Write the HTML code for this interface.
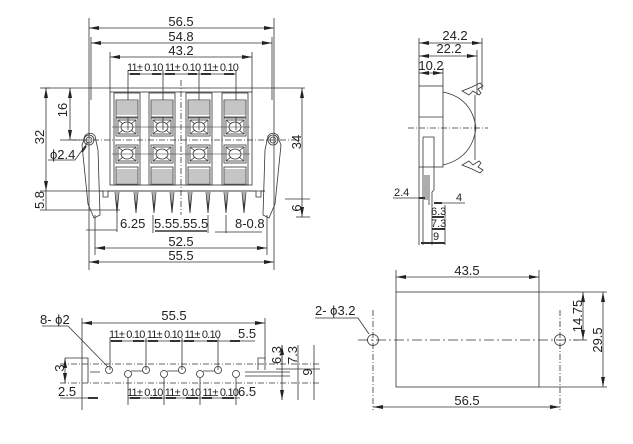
<!DOCTYPE html>
<html><head><meta charset="utf-8"><style>
html,body{margin:0;padding:0;background:#fff;}
svg{display:block;}
text{font-family:"Liberation Sans",sans-serif;font-size:13px;fill:#222;}
</style></head><body>
<svg width="633" height="444" viewBox="0 0 633 444" xmlns="http://www.w3.org/2000/svg">
<defs>
<marker id="a" viewBox="0 0 10 4" refX="10" refY="2" markerWidth="10" markerHeight="4" orient="auto-start-reverse" markerUnits="userSpaceOnUse"><path d="M0,0L10,2L0,4z" fill="#222"/></marker>
</defs>
<g stroke="#333" stroke-width="0.8" fill="none">
<line x1="89" y1="18" x2="89" y2="270"/><line x1="274" y1="18" x2="274" y2="270"/>
<line x1="91" y1="37" x2="91" y2="100"/><line x1="272" y1="37" x2="272" y2="100"/>
<line x1="110" y1="52" x2="110" y2="92"/><line x1="252" y1="52" x2="252" y2="92"/>
<line x1="89" y1="28" x2="274" y2="28" marker-start="url(#a)" marker-end="url(#a)"/>
<line x1="91" y1="43" x2="272" y2="43" marker-start="url(#a)" marker-end="url(#a)"/>
<line x1="110" y1="57" x2="252" y2="57" marker-start="url(#a)" marker-end="url(#a)"/>
<line x1="128" y1="74" x2="236" y2="74"/>
<g stroke-width="2"><line x1="130" y1="74" x2="140" y2="74"/><line x1="152" y1="74" x2="161" y2="74"/><line x1="165" y1="74" x2="175" y2="74"/><line x1="188" y1="74" x2="197" y2="74"/><line x1="201" y1="74" x2="211" y2="74"/><line x1="224" y1="74" x2="234" y2="74"/></g>
<line x1="128" y1="70" x2="128" y2="130"/><line x1="163" y1="70" x2="163" y2="130"/><line x1="199" y1="70" x2="199" y2="130"/><line x1="236" y1="70" x2="236" y2="130"/>
<line x1="45" y1="88" x2="305" y2="88"/>
<rect x="110" y="92" width="142" height="93"/>
<g id="m">
<rect x="114" y="93" width="26" height="92"/>
<rect x="116" y="100" width="22" height="17" fill="#fff"/>
<rect x="116" y="167" width="22" height="17" fill="#fff"/>
<path d="M116,102h22M116,104h22M116,106h22M116,108h22M116,110h22M116,112h22M116,114h22M116,170h22M116,172h22M116,174h22M116,176h22M116,178h22M116,180h22M116,182h22" stroke="#666"/>
<rect x="116" y="118" width="22" height="18"/><rect x="118" y="120" width="18" height="14"/>
<ellipse cx="127" cy="127" rx="6" ry="5"/><path d="M118,120l5,4M136,120l-5,4M118,134l5,-4M136,134l-5,-4"/>
<rect x="116" y="145" width="22" height="18"/><rect x="118" y="147" width="18" height="14"/>
<ellipse cx="127" cy="154" rx="6" ry="5"/><path d="M118,147l5,4M136,147l-5,4M118,161l5,-4M136,161l-5,-4"/>
</g>
<use href="#m" x="35"/><use href="#m" x="72"/><use href="#m" x="108"/>
<path d="M112,127H250M112,154H250" stroke-width="0.6"/>
<line x1="181" y1="80" x2="181" y2="215" stroke-dasharray="6,2,1,2"/>
<line x1="60" y1="140" x2="300" y2="140" stroke-dasharray="6,2,1,2"/>
<path d="M100,191H103V197H108V191H256V197H261V191H265"/>
<line x1="100" y1="191" x2="265" y2="191"/>
<g id="p"><path d="M115,192L117,213L119,192M117,192V210"/></g>
<use href="#p" x="19"/><use href="#p" x="37"/><use href="#p" x="55"/><use href="#p" x="73"/><use href="#p" x="91"/><use href="#p" x="109"/><use href="#p" x="127"/>
<path d="M84,140a6,6 0 0 1 11,-4L98,150L100,215L94,218L88,204L82,145z"/>
<circle cx="89" cy="140" r="5"/><circle cx="89" cy="140" r="3"/>
<path d="M279,140a6,6 0 0 0 -11,-4L265,150L263,215L269,218L275,204L281,145z"/>
<circle cx="273" cy="140" r="5"/><circle cx="273" cy="140" r="3"/>
<line x1="40" y1="88" x2="50" y2="88"/><line x1="40" y1="210" x2="120" y2="210"/><line x1="40" y1="191" x2="100" y2="191"/>
<line x1="46" y1="88" x2="46" y2="191" marker-start="url(#a)" marker-end="url(#a)"/>
<line x1="46" y1="191" x2="46" y2="210"/>
<line x1="70" y1="88" x2="70" y2="140" marker-start="url(#a)" marker-end="url(#a)"/>
<line x1="66" y1="140" x2="86" y2="140"/>
<path d="M48,160H75L88,142" /><line x1="86" y1="146" x2="82" y2="152" stroke-width="2"/>
<line x1="296" y1="217" x2="310" y2="217"/><line x1="285" y1="199" x2="310" y2="199"/>
<line x1="302" y1="88" x2="302" y2="217" marker-start="url(#a)" marker-end="url(#a)"/>
<line x1="95" y1="215" x2="95" y2="255"/><line x1="267" y1="215" x2="267" y2="255"/>
<line x1="95" y1="248" x2="267" y2="248" marker-start="url(#a)" marker-end="url(#a)"/>
<line x1="89" y1="262" x2="274" y2="262" marker-start="url(#a)" marker-end="url(#a)"/>
<line x1="86" y1="230" x2="117" y2="230"/><line x1="117" y1="212" x2="117" y2="232"/>
<line x1="153" y1="215" x2="153" y2="233"/><line x1="208" y1="215" x2="208" y2="233"/>
<line x1="155" y1="231" x2="207" y2="231" stroke-width="1.5"/>
<line x1="215" y1="232" x2="262" y2="232"/><line x1="226" y1="215" x2="226" y2="233"/>
<line x1="419" y1="38" x2="419" y2="86"/><line x1="482" y1="38" x2="482" y2="90"/><line x1="477" y1="50" x2="477" y2="95"/><line x1="443" y1="68" x2="443" y2="86"/>
<line x1="419" y1="43" x2="482" y2="43" marker-start="url(#a)" marker-end="url(#a)"/>
<line x1="419" y1="56" x2="477" y2="56" marker-start="url(#a)" marker-end="url(#a)"/>
<line x1="419" y1="73" x2="443" y2="73" marker-start="url(#a)" marker-end="url(#a)"/>
<rect x="419" y="86" width="24" height="81"/>
<line x1="419" y1="117" x2="443" y2="117"/>
<path d="M423,137H434V167M423,137V245M434,167V190L432,192V245M419,167V245"/>
<path d="M443,92Q472,98 476,128Q472,158 443,165"/>
<path d="M462,91l10,-4l8,-4l3,3l-5,3l3,4l-2,2l-6,-4l-4,4zM462,165l10,4l8,4l3,-3l-5,-3l3,-4l-2,-2l-6,4l-4,-4z"/>
<line x1="475" y1="95" x2="475" y2="160"/>
<line x1="408" y1="128" x2="488" y2="128" stroke-dasharray="6,2,1,2"/>
<path d="M425,175V200M427,175V200M429,175V205"/>
<line x1="393" y1="198" x2="425" y2="198"/><line x1="419" y1="198" x2="425" y2="198" stroke-width="2"/>
<line x1="434" y1="203" x2="465" y2="203"/><line x1="434" y1="203" x2="442" y2="203" stroke-width="2"/>
<line x1="432" y1="217" x2="444" y2="217" stroke-width="2"/>
<line x1="432" y1="229" x2="445" y2="229" stroke-width="2"/>
<line x1="421" y1="243" x2="445" y2="243" stroke-width="2"/>
<line x1="445" y1="205" x2="445" y2="245"/>
<line x1="82" y1="318" x2="82" y2="410"/><line x1="265" y1="318" x2="265" y2="360"/>
<line x1="82" y1="323" x2="265" y2="323" marker-start="url(#a)" marker-end="url(#a)"/>
<line x1="110" y1="341" x2="255" y2="341"/>
<g stroke-width="2"><line x1="111" y1="341" x2="122" y2="341"/><line x1="133" y1="341" x2="144" y2="341"/><line x1="148" y1="341" x2="158" y2="341"/><line x1="170" y1="341" x2="180" y2="341"/><line x1="184" y1="341" x2="194" y2="341"/><line x1="207" y1="341" x2="217" y2="341"/><line x1="230" y1="341" x2="240" y2="341"/></g>
<path d="M110,338V370M146,338V370M182,338V370M218,338V370"/>
<line x1="60" y1="364" x2="320" y2="364" stroke-dasharray="6,2,1,2"/>
<line x1="60" y1="383" x2="320" y2="383" stroke-dasharray="6,2,1,2"/>
<path d="M65,358H88V383M258,370V358H265V370"/>
<g><circle cx="109" cy="370" r="3.5"/><circle cx="146" cy="370" r="3.5"/><circle cx="182" cy="370" r="3.5"/><circle cx="218" cy="370" r="3.5"/>
<circle cx="128" cy="374" r="3.5"/><circle cx="164" cy="374" r="3.5"/><circle cx="200" cy="374" r="3.5"/><circle cx="236" cy="374" r="3.5"/></g>
<path d="M131,371H143M167,371H179M203,371H215M90,372H100M245,372H290M245,376H290"/>
<path d="M128,378V405M164,378V405M200,378V405M236,378V405"/>
<line x1="128" y1="398" x2="240" y2="398"/>
<g stroke-width="2"><line x1="130" y1="398" x2="140" y2="398"/><line x1="150" y1="398" x2="162" y2="398"/><line x1="166" y1="398" x2="176" y2="398"/><line x1="186" y1="398" x2="198" y2="398"/><line x1="202" y1="398" x2="212" y2="398"/><line x1="222" y1="398" x2="234" y2="398"/></g>
<line x1="60" y1="398" x2="98" y2="398"/><line x1="88" y1="398" x2="98" y2="398" stroke-width="2"/>
<line x1="65" y1="358" x2="65" y2="383" marker-start="url(#a)" marker-end="url(#a)"/>
<path d="M42,326H68L108,367"/>
<line x1="282" y1="345" x2="282" y2="400" marker-end="url(#a)"/><line x1="282" y1="345" x2="282" y2="365" marker-start="url(#a)"/>
<line x1="298" y1="345" x2="298" y2="400"/><line x1="314" y1="345" x2="314" y2="400"/>
<line x1="276" y1="369" x2="320" y2="369"/>
<line x1="396" y1="270" x2="396" y2="292"/><line x1="539" y1="270" x2="539" y2="292"/>
<line x1="396" y1="277" x2="539" y2="277" marker-start="url(#a)" marker-end="url(#a)"/>
<rect x="396" y="292" width="143" height="95"/>
<line x1="539" y1="292" x2="607" y2="292"/><line x1="539" y1="387" x2="607" y2="387"/>
<line x1="358" y1="340" x2="578" y2="340" stroke-dasharray="10,3,2,3"/>
<line x1="573" y1="340" x2="587" y2="340"/>
<circle cx="373" cy="340" r="5.5"/><circle cx="560" cy="340" r="5.5"/>
<line x1="373" y1="310" x2="373" y2="410" stroke-dasharray="6,2,1,2"/><line x1="560" y1="310" x2="560" y2="410" stroke-dasharray="6,2,1,2"/>
<line x1="583" y1="292" x2="583" y2="340" marker-start="url(#a)" marker-end="url(#a)"/>
<line x1="603" y1="292" x2="603" y2="387" marker-start="url(#a)" marker-end="url(#a)"/>
<line x1="373" y1="407" x2="560" y2="407" marker-start="url(#a)" marker-end="url(#a)"/>
<path d="M315,318H358L369,334"/>
</g>
<text x="181" y="26" text-anchor="middle">56.5</text>
<text x="181" y="41" text-anchor="middle">54.8</text>
<text x="181" y="55" text-anchor="middle">43.2</text>
<text x="127" y="71" style="font-size:11px;letter-spacing:-0.8px">11± 0.10 11± 0.10 11± 0.10</text>
<text transform="translate(44,137) rotate(-90)" text-anchor="middle">32</text>
<text transform="translate(67,110) rotate(-90)" text-anchor="middle">16</text>
<text transform="translate(44,200) rotate(-90)" text-anchor="middle">5.8</text>
<text x="50" y="159">ϕ2.4</text>
<text transform="translate(301,142) rotate(-90)" text-anchor="middle">34</text>
<text transform="translate(301,208) rotate(-90)" text-anchor="middle">6</text>
<text x="120" y="228">6.25</text>
<text x="154" y="228">5.55.55.5</text>
<text x="235" y="228">8-0.8</text>
<text x="181" y="246" text-anchor="middle">52.5</text>
<text x="181" y="260" text-anchor="middle">55.5</text>
<text x="455" y="40" text-anchor="middle">24.2</text>
<text x="449" y="53" text-anchor="middle">22.2</text>
<text x="431" y="70" text-anchor="middle">10.2</text>
<text x="394" y="196" style="font-size:11px">2.4</text>
<text x="456" y="201" style="font-size:11px">4</text>
<text x="431" y="215" style="font-size:11px">6.3</text>
<text x="431" y="227" style="font-size:11px">7.3</text>
<text x="433" y="240" style="font-size:11px">9</text>
<text x="174" y="320" text-anchor="middle">55.5</text>
<text x="40" y="324">8- ϕ2</text>
<text x="109" y="338" style="font-size:11px;letter-spacing:-0.8px">11± 0.10 11± 0.10 11± 0.10</text>
<text x="238" y="338">5.5</text>
<text x="127" y="396" style="font-size:11px;letter-spacing:-0.8px">11± 0.10 11± 0.10 11± 0.10</text>
<text x="238" y="396">6.5</text>
<text x="58" y="396">2.5</text>
<text transform="translate(64,368) rotate(-90)" text-anchor="middle">3</text>
<text transform="translate(281,355) rotate(-90)" text-anchor="middle">6.3</text>
<text transform="translate(297,355) rotate(-90)" text-anchor="middle">7.3</text>
<text transform="translate(312,372) rotate(-90)" text-anchor="middle">9</text>
<text x="467" y="275" text-anchor="middle">43.5</text>
<text x="467" y="405" text-anchor="middle">56.5</text>
<text x="315" y="315">2- ϕ3.2</text>
<text transform="translate(582,316) rotate(-90)" text-anchor="middle">14.75</text>
<text transform="translate(602,340) rotate(-90)" text-anchor="middle">29.5</text>
</svg>
</body></html>
